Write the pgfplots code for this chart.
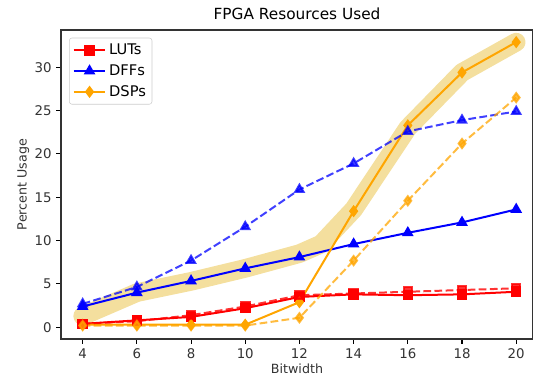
\documentclass[border=0pt]{standalone}
\usepackage{fontspec}
\setmainfont{DejaVu Sans}
\usepackage{pgfplots}
\pgfplotsset{compat=1.18}
\definecolor{mplorange}{RGB}{255,165,0}
\definecolor{bandcol}{RGB}{230,185,40}
\begin{document}
\begin{tikzpicture}
\path[use as bounding box] (-45.75pt,-32.25pt) rectangle (354pt,254.25pt);
\begin{axis}[
  scale only axis, width=354pt, height=231.75pt,
  xmin=3.2, xmax=20.62, ymin=-1.35, ymax=34.3,
  xtick={4,6,...,20}, ytick={0,5,...,30},
  tick align=outside, tick pos=left,
  major tick length=3.6pt,
  every tick/.style={black, line width=0.8pt},
  axis line style={line width=0.8pt, black!80},
  /pgf/number format/assume math mode=true,
  ticklabel style={font=\fontsize{10}{12}\selectfont, text=black!80},
  title={FPGA Resources Used},
  title style={font=\fontsize{11.5}{13}\selectfont, yshift=-2pt},
  xlabel={Bitwidth}, ylabel={Percent Usage},
  label style={font=\fontsize{9.5}{11}\selectfont, text=black!80},
  xlabel style={yshift=3pt}, ylabel style={yshift=-3pt},
  legend style={at={(0.017,0.975)}, anchor=north west, draw=black!20, rounded corners=2pt, font=\fontsize{11}{13}\selectfont, inner sep=2.5pt, row sep=2pt},
  legend cell align=left,
  legend image code/.code={\draw[mark repeat=2,mark phase=2] plot coordinates {(0cm,0cm) (0.42cm,0cm) (0.84cm,0cm)};},
]
% highlight band
\addplot[bandcol, opacity=0.45, line width=14pt, line cap=round, line join=round, forget plot] coordinates {
(4,1.3) (6,4.0) (8,5.3) (10,6.8) (12,8.5) (12.8,9.6) (14,13.6) (16,23.0) (18,29.4) (20,32.9)};
% solid series
\addplot[red, line width=1.5pt, mark=square*, mark size=3.2pt] coordinates {
(4,0.4) (6,0.8) (8,1.2) (10,2.2) (12,3.5) (14,3.8) (16,3.7) (18,3.8) (20,4.1)};
\addlegendentry{LUTs}
\addplot[blue, line width=1.5pt, mark=triangle*, mark size=3.6pt] coordinates {
(4,2.4) (6,4.0) (8,5.35) (10,6.8) (12,8.1) (14,9.6) (16,10.9) (18,12.1) (20,13.6)};
\addlegendentry{DFFs}
\addplot[mplorange, line width=1.5pt, mark=diamond*, mark size=3.4pt] coordinates {
(4,0.3) (6,0.3) (8,0.3) (10,0.3) (12,2.9) (14,13.4) (16,23.3) (18,29.4) (20,32.9)};
\addlegendentry{DSPs}
% dashed series
\addplot[red, opacity=0.8, line width=1.5pt, dash pattern=on 5.8pt off 2.5pt, mark=square*, mark size=3.2pt, mark options={solid}, forget plot] coordinates {
(4,0.4) (6,0.7) (8,1.4) (10,2.4) (12,3.7) (14,3.9) (16,4.1) (18,4.3) (20,4.5)};
\addplot[blue, opacity=0.75, line width=1.5pt, dash pattern=on 5.8pt off 2.5pt, mark=triangle*, mark size=3.6pt, mark options={solid}, forget plot] coordinates {
(4,2.7) (6,4.65) (8,7.7) (10,11.6) (12,15.9) (14,18.9) (16,22.6) (18,23.9) (20,24.9)};
\addplot[mplorange, opacity=0.75, line width=1.5pt, dash pattern=on 5.8pt off 2.5pt, mark=diamond*, mark size=3.4pt, mark options={solid}, forget plot] coordinates {
(4,0.2) (6,0.2) (8,0.2) (10,0.2) (12,1.1) (14,7.7) (16,14.6) (18,21.2) (20,26.5)};
\end{axis}
\end{tikzpicture}
\end{document}
